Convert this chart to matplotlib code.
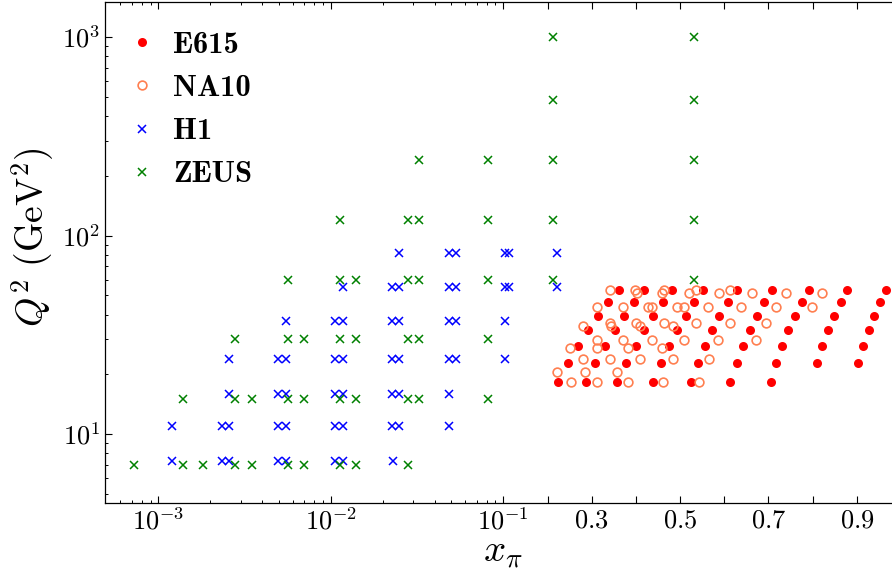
import os
import numpy as np
import matplotlib
matplotlib.use('Agg')
import matplotlib.pyplot as plt
from matplotlib.ticker import FixedLocator, FixedFormatter, NullFormatter
from matplotlib.font_manager import FontProperties

plt.rcParams['mathtext.fontset'] = 'cm'
plt.rcParams['font.family'] = 'serif'
plt.rcParams['font.serif'] = ['DejaVu Serif']

# ---------------- data ----------------
zeus_q2 = [7, 15, 30, 60, 120, 240, 480, 1000]
zeus_x = [
    [7.26e-4, 1.385e-3, 1.823e-3, 2.783e-3, 3.478e-3, 5.625e-3, 6.965e-3, 1.131e-2, 1.400e-2, 2.813e-2],
    [1.385e-3, 2.783e-3, 3.478e-3, 5.625e-3, 6.965e-3, 1.131e-2, 1.400e-2, 2.813e-2, 3.258e-2, 0.0812],
    [2.783e-3, 5.625e-3, 6.965e-3, 1.131e-2, 1.400e-2, 2.813e-2, 3.258e-2, 0.0812],
    [5.625e-3, 1.131e-2, 1.400e-2, 2.813e-2, 3.258e-2, 0.0812, 0.2131, 0.5321],
    [1.131e-2, 2.813e-2, 3.258e-2, 0.0812, 0.2131, 0.5321],
    [3.258e-2, 0.0812, 0.2131, 0.5321],
    [0.2131, 0.5321],
    [0.2131, 0.5321],
]

h1_q2 = [7.3, 11, 16, 24, 37, 55, 82]
h1_x = [
    [1.196e-3, 2.350e-3, 2.579e-3, 4.962e-3, 5.498e-3, 1.058e-2, 1.172e-2, 2.29e-2],
    [1.196e-3, 2.350e-3, 2.579e-3, 4.962e-3, 5.498e-3, 1.058e-2, 1.172e-2, 2.263e-2, 2.469e-2, 0.04812],
    [2.579e-3, 4.962e-3, 5.498e-3, 1.058e-2, 1.172e-2, 2.263e-2, 2.469e-2, 0.04812],
    [2.579e-3, 4.962e-3, 5.498e-3, 1.058e-2, 1.172e-2, 2.263e-2, 2.469e-2, 0.04812, 0.05320, 0.1045],
    [5.498e-3, 1.058e-2, 1.172e-2, 2.263e-2, 2.469e-2, 0.04812, 0.05320, 0.1045],
    [1.172e-2, 2.263e-2, 2.469e-2, 0.04812, 0.05320, 0.1045, 0.1136, 0.2208],
    [2.469e-2, 0.04812, 0.05320, 0.1045, 0.1136, 0.2208],
]

e615_q2 = [18.2, 22.7, 27.8, 33.4, 39.3, 46.1, 53.1]
e615_x = [
    [0.2231, 0.2864, 0.3579, 0.4380, 0.5247, 0.6129, 0.7050],
    [0.2471, 0.3075, 0.3776, 0.4561, 0.5398, 0.6281, 0.7170, 0.8090, 0.9032],
    [0.2697, 0.3301, 0.3995, 0.4749, 0.5563, 0.6416, 0.7305, 0.8217, 0.9145],
    [0.2923, 0.3527, 0.4190, 0.4937, 0.5729, 0.6575, 0.7448, 0.8346, 0.9274],
    [0.3149, 0.3738, 0.4394, 0.5127, 0.5891, 0.6740, 0.7600, 0.8482, 0.9387],
    [0.3376, 0.3957, 0.4606, 0.5321, 0.6090, 0.6905, 0.7758, 0.8633, 0.9523],
    [0.3618, 0.4183, 0.4824, 0.5525, 0.6294, 0.7079, 0.7916, 0.8776, 0.9658],
]

na10_q2 = [18.4, 20.5, 23.8, 27.2, 29.8, 35.0, 36.4, 43.8, 51.1, 53.1]
na10_x = [
    [0.2525, 0.3113, 0.3828, 0.4606, 0.5434],
    [0.2222, 0.2848, 0.3566],
    [0.2810, 0.3414, 0.4093, 0.4846, 0.5654],
    [0.2509, 0.3127, 0.3828, 0.4597],
    [0.3113, 0.3701, 0.4371, 0.5088, 0.5851, 0.6717],
    [0.2810, 0.3430, 0.4093, 0.4846],
    [0.3414, 0.3995, 0.4636, 0.5353, 0.6129, 0.6937],
    [0.3113, 0.3701, 0.4281, 0.4371, 0.4923, 0.5088, 0.5638, 0.6371, 0.7170, 0.7991],
    [0.4018, 0.4584, 0.5208, 0.5887, 0.6620, 0.7396, 0.8217],
    [0.3414, 0.3980, 0.4643, 0.5353, 0.6129],
]

major_ticks = [1e-3, 1e-2, 1e-1, 0.2, 0.3, 0.4, 0.5, 0.6, 0.7, 0.8, 0.9]
major_labels = [r'$10^{-3}$', r'$10^{-2}$', r'$10^{-1}$', '', r'$0.3$', '',
                r'$0.5$', '', r'$0.7$', '', r'$0.9$']
y_ticks = [10, 100, 1000]
y_labels = [r'$10^{1}$', r'$10^{2}$', r'$10^{3}$']
series_labels = ['E615', 'NA10', 'H1', 'ZEUS']


def flat(q2s, xs):
    X, Y = [], []
    for q, row in zip(q2s, xs):
        X += list(row)
        Y += [q] * len(row)
    return np.array(X), np.array(Y)


# ------------- hybrid log/linear x-scale -------------
K = 2.562


def fwd(x):
    x = np.asarray(x, dtype=float)
    with np.errstate(divide='ignore', invalid='ignore'):
        lg = np.log10(np.where(x > 0, x, np.nan))
    return np.where(x < 0.1, lg, -1.0 + (x - 0.1) * K)


def inv(y):
    y = np.asarray(y, dtype=float)
    return np.where(y < -1, 10.0 ** np.minimum(y, 0), 0.1 + (y + 1) / K)


fig = plt.figure(figsize=(8.92, 5.69), dpi=100)
ax = fig.add_axes([105 / 892, 66 / 569, 796 / 892, 501 / 569])
ax.set_xscale('function', functions=(fwd, inv))
ax.set_yscale('log')
ax.set_xlim(4.9e-4, 1.0)
ax.set_ylim(4.5, 1500)

x, y = flat(e615_q2, e615_x)
ax.plot(x, y, 'o', color='red', ms=6.5, mew=0, label=series_labels[0])
x, y = flat(na10_q2, na10_x)
ax.plot(x, y, 'o', mfc='none', mec='coral', ms=6.3, mew=1.2, label=series_labels[1])
x, y = flat(h1_q2, h1_x)
ax.plot(x, y, 'x', color='blue', ms=6, mew=1.1, label=series_labels[2])
x, y = flat(zeus_q2, zeus_x)
ax.plot(x, y, 'x', color='green', ms=6, mew=1.1, label=series_labels[3])

ax.xaxis.set_major_locator(FixedLocator(major_ticks))
ax.xaxis.set_major_formatter(FixedFormatter(major_labels))
minor = [m * 10.0 ** e for e in (-4, -3, -2) for m in range(2, 10)]
ax.xaxis.set_minor_locator(FixedLocator([v for v in minor if v > 5e-4]))
ax.xaxis.set_minor_formatter(NullFormatter())

ax.yaxis.set_major_locator(FixedLocator(y_ticks))
ax.yaxis.set_major_formatter(FixedFormatter(y_labels))
yminor = [m * 10.0 ** e for e in (0, 1, 2, 3) for m in range(2, 10)]
ax.yaxis.set_minor_locator(FixedLocator(yminor))
ax.yaxis.set_minor_formatter(NullFormatter())

ax.tick_params(which='both', direction='in', top=True, right=True, labelsize=19)
ax.tick_params(which='major', length=5, width=0.8)
ax.tick_params(which='minor', length=2.5, width=0.7)
for s in ax.spines.values():
    s.set_linewidth(0.9)

ax.set_xlabel(r'$x_\pi$', fontsize=28, labelpad=-1)
ax.set_ylabel(r'$Q^2\ (\mathrm{GeV}^2)$', fontsize=27)
ax.yaxis.set_label_coords(-0.062, 0.53)

bold_path = os.path.join(matplotlib.get_data_path(), 'fonts', 'ttf', 'cmb10.ttf')
if os.path.exists(bold_path):
    lprop = FontProperties(fname=bold_path, size=22)
else:
    lprop = FontProperties(family='serif', weight='bold', size=20)

ax.legend(loc='upper left', bbox_to_anchor=(0.0, 0.98), frameon=False, prop=lprop,
          handletextpad=0.45, labelspacing=0.52, borderaxespad=0.33,
          handlelength=1.15, borderpad=0.3)

fig.savefig('out.png', dpi=100)
